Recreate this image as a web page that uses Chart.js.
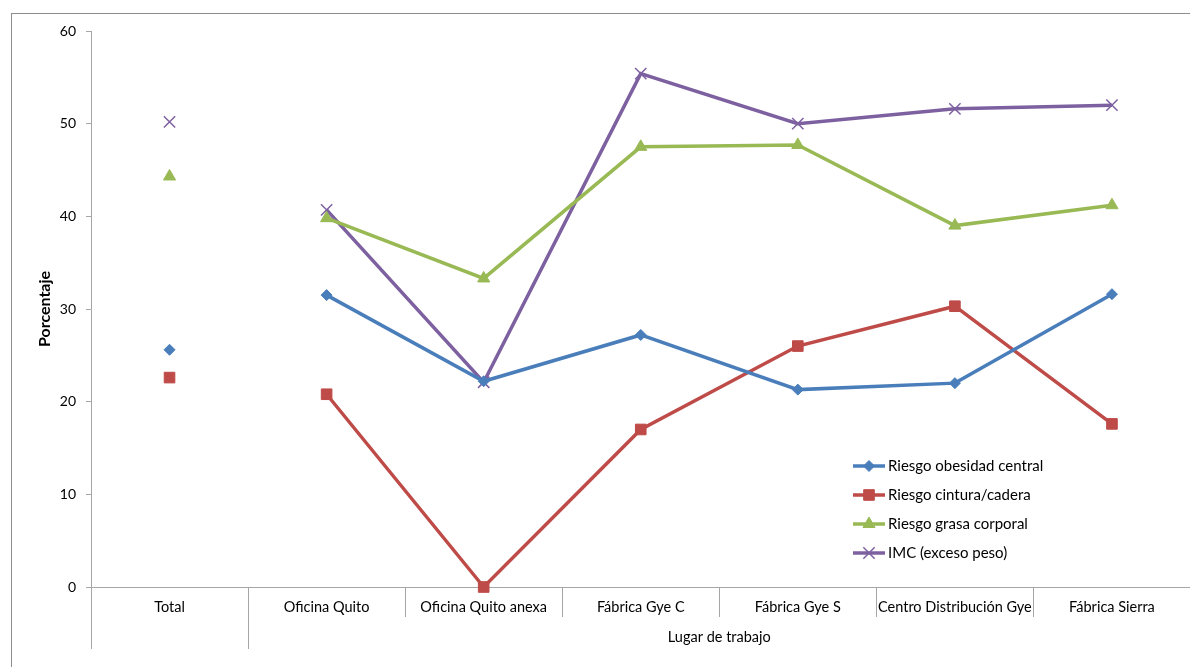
<!DOCTYPE html>
<html>
<head>
<meta charset="utf-8">
<script src="https://cdn.jsdelivr.net/npm/chart.js@4/dist/chart.umd.min.js"></script>
<style>
  html, body { margin: 0; padding: 0; background: #fff; overflow: hidden; }
  canvas { display: block; }
</style>
</head>
<body>
<canvas id="grafico" width="1200" height="667"></canvas>
<script>
// Datos
const lugares = ['Total', 'Oficina Quito', 'Oficina Quito anexa', 'Fábrica Gye C', 'Fábrica Gye S', 'Centro Distribución Gye', 'Fábrica Sierra'];
const obesidadCentral = [25.6, 31.5, 22.2, 27.2, 21.3, 22.0, 31.6];
const cinturaCadera = [22.6, 20.8, 0, 17.0, 26.0, 30.3, 17.6];
const grasaCorporal = [44.3, 39.8, 33.3, 47.5, 47.7, 39.0, 41.2];
const imc = [50.2, 40.7, 22.1, 55.4, 50.0, 51.6, 52.0];
const ticksY = [0, 10, 20, 30, 40, 50, 60];
const grupoEje = 'Lugar de trabajo';

const fuente = 'Lato, "Open Sans", sans-serif';
const gris = '#a6a6a6';

// el punto "Total" no se une con el resto
function serie(nombre, datos, color, estilo, radio) {
  return {
    label: nombre,
    data: datos,
    borderColor: color,
    backgroundColor: color,
    pointBackgroundColor: color,
    pointBorderColor: color,
    borderWidth: 3.5,
    pointStyle: estilo,
    pointRadius: radio,
    pointHoverRadius: radio,
    pointBorderWidth: estilo === 'crossRot' ? 1.5 : 1,
    tension: 0,
    clip: false,
    segment: { borderColor: ctx => ctx.p0DataIndex === 0 ? 'rgba(0,0,0,0)' : color }
  };
}

const datasets = [
  serie('Riesgo obesidad central', obesidadCentral, '#4a7ebb', 'rectRot', 5.5),
  serie('Riesgo cintura/cadera', cinturaCadera, '#be4b48', 'rect', 7.5),
  serie('Riesgo grasa corporal', grasaCorporal, '#98b954', 'triangle', 7),
  serie('IMC (exceso peso)', imc, '#7d60a0', 'crossRot', 8)
];

// marco, divisiones largas, etiqueta de grupo y leyenda
const marcoPlugin = {
  id: 'marco',
  beforeDraw(chart) {
    const c = chart.ctx;
    c.save();
    c.strokeStyle = '#8c8c8c';
    c.lineWidth = 1;
    c.strokeRect(11.5, 13.5, 3000, 3000);
    c.restore();
  },
  afterDraw(chart) {
    const c = chart.ctx;
    const x = chart.scales.x;
    const paso = x.getPixelForValue(1) - x.getPixelForValue(0);
    const izq = x.getPixelForValue(0) - paso / 2;
    const sep = x.getPixelForValue(0) + paso / 2;
    const der = x.getPixelForValue(lugares.length - 1) + paso / 2;
    const y0 = x.top;
    c.save();
    c.strokeStyle = gris;
    c.lineWidth = 1;
    [izq, sep].forEach(px => {
      c.beginPath();
      c.moveTo(Math.round(px) + 0.5, y0);
      c.lineTo(Math.round(px) + 0.5, y0 + 62);
      c.stroke();
    });
    c.fillStyle = '#000';
    c.font = '14.5px ' + fuente;
    c.textAlign = 'center';
    c.textBaseline = 'middle';
    c.fillText(grupoEje, (sep + der) / 2, y0 + 50);

    // leyenda dentro del area
    const lx = 853, ly = 466, salto = 29;
    chart.data.datasets.forEach((d, i) => {
      const y = ly + i * salto;
      c.strokeStyle = d.borderColor;
      c.lineWidth = 3.5;
      c.beginPath();
      c.moveTo(lx, y);
      c.lineTo(lx + 32, y);
      c.stroke();
      c.fillStyle = d.borderColor;
      c.lineWidth = d.pointBorderWidth;
      Chart.helpers.drawPoint(c, { pointStyle: d.pointStyle, radius: d.pointRadius, rotation: 0, borderWidth: d.pointBorderWidth }, lx + 16, y);
      c.fillStyle = '#000';
      c.font = '15px ' + fuente;
      c.textAlign = 'left';
      c.fillText(d.label, lx + 35, y);
    });
    c.restore();
  }
};

new Chart(document.getElementById('grafico'), {
  type: 'line',
  data: { labels: lugares, datasets: datasets },
  options: {
    responsive: false,
    animation: false,
    layout: { padding: { left: 0, right: 3, top: 31, bottom: 0 } },
    plugins: { legend: { display: false }, tooltip: { enabled: false } },
    scales: {
      x: {
        offset: true,
        afterFit: s => { s.height = 80; },
        grid: { offset: true, drawOnChartArea: false, tickLength: 30, color: gris },
        border: { color: gris },
        ticks: { color: '#000', font: { family: fuente, size: 14.5 }, padding: -18, autoSkip: false, maxRotation: 0 }
      },
      y: {
        min: 0,
        max: 60,
        afterFit: s => { s.width = 91; },
        afterBuildTicks: s => { s.ticks = ticksY.map(v => ({ value: v })); },
        grid: { drawOnChartArea: false, tickLength: 5, color: gris },
        border: { color: gris },
        ticks: { color: '#000', font: { family: fuente, size: 14 }, padding: 10 },
        title: { display: true, text: 'Porcentaje', color: '#000', font: { family: fuente, size: 16, weight: 'bold' }, padding: { top: 35, bottom: 0 } }
      }
    }
  },
  plugins: [marcoPlugin]
});
</script>
</body>
</html>
